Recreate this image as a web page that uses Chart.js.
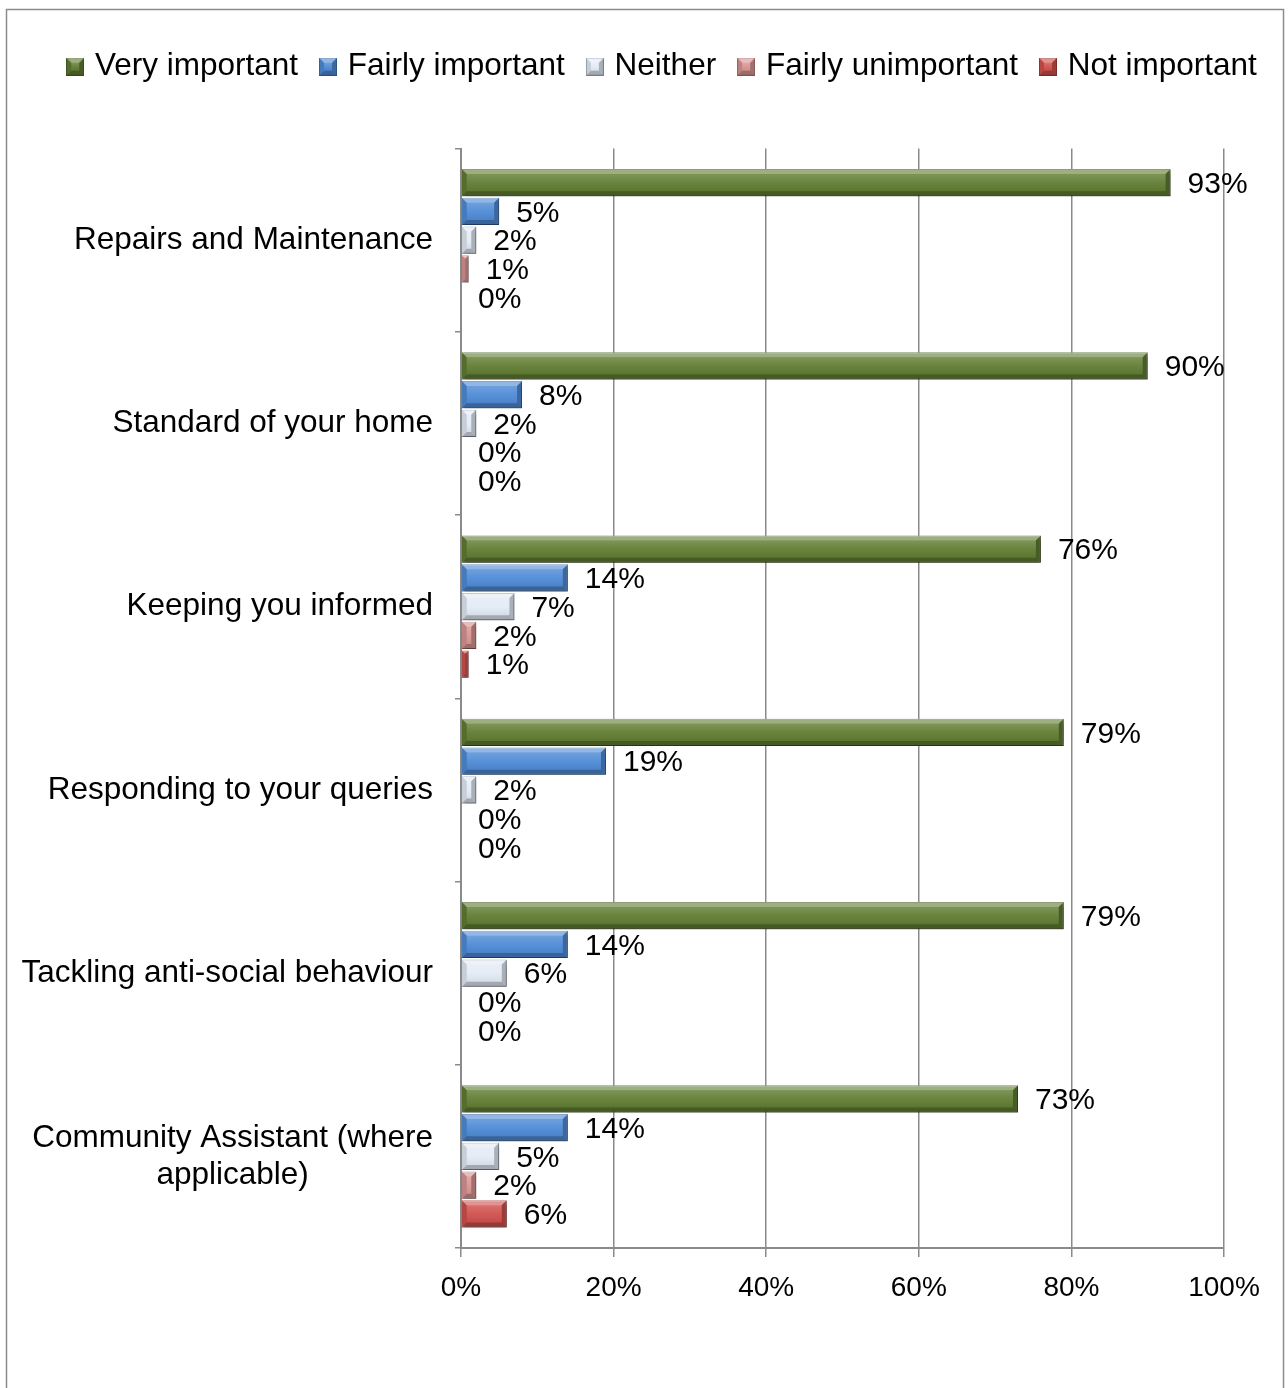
<!DOCTYPE html>
<html>
<head>
<meta charset="utf-8">
<title>Importance of services</title>
<script src="https://cdn.jsdelivr.net/npm/chart.js@4"></script>
<style>
  html, body { margin: 0; padding: 0; background: #fff; }
  canvas { display: block; }
</style>
</head>
<body>
<canvas id="servicesChart" width="1288" height="1388"></canvas>
<script>
const categories = [
  'Repairs and Maintenance',
  'Standard of your home',
  'Keeping you informed',
  'Responding to your queries',
  'Tackling anti-social behaviour',
  ['Community Assistant (where', 'applicable)']
];
const seriesNames = ['Very important', 'Fairly important', 'Neither', 'Fairly unimportant', 'Not important'];
const veryImportant = [93, 90, 76, 79, 79, 73];
const fairlyImportant = [5, 8, 14, 19, 14, 14];
const neither = [2, 2, 7, 2, 6, 5];
const fairlyUnimportant = [1, 0, 2, 0, 0, 2];
const notImportant = [0, 0, 1, 0, 0, 6];
const xTickValues = [0, 20, 40, 60, 80, 100];

const FONT = "'Liberation Sans', Arial, sans-serif";
const fills = ['#617d33', '#4f8bd6', '#e3ebf5', '#d99593', '#d0514d'];
const edges = ['#4d6327', '#3b6fae', '#9fadbd', '#b07371', '#a53c39'];

// bevelled facets like the office 3D bar style
function drawBevel(ctx, x0, y0, x1, y1) {
  const b = Math.min(5, (x1 - x0) / 2, (y1 - y0) / 2);
  if (b <= 0) return;
  const facet = (pts, col) => {
    ctx.beginPath();
    ctx.moveTo(pts[0], pts[1]);
    for (let i = 2; i < pts.length; i += 2) ctx.lineTo(pts[i], pts[i + 1]);
    ctx.closePath();
    ctx.fillStyle = col;
    ctx.fill();
  };
  facet([x0, y0, x1, y0, x1 - b, y0 + b, x0 + b, y0 + b], 'rgba(255,255,255,0.38)');
  facet([x0, y1, x1, y1, x1 - b, y1 - b, x0 + b, y1 - b], 'rgba(0,0,0,0.28)');
  facet([x0, y0, x0 + b, y0 + b, x0 + b, y1 - b, x0, y1], 'rgba(0,0,0,0.12)');
  facet([x1, y0, x1 - b, y0 + b, x1 - b, y1 - b, x1, y1], 'rgba(0,0,0,0.25)');
  if (x1 - x0 > 2 * b && y1 - y0 > 2 * b) {
    const g = ctx.createLinearGradient(0, y0 + b, 0, y1 - b);
    g.addColorStop(0, 'rgba(255,255,255,0.18)');
    g.addColorStop(0.5, 'rgba(255,255,255,0.05)');
    g.addColorStop(1, 'rgba(0,0,0,0.06)');
    ctx.fillStyle = g;
    ctx.fillRect(x0 + b, y0 + b, x1 - x0 - 2 * b, y1 - y0 - 2 * b);
  }
}

// little bevelled squares for the legend
const legendIcons = fills.map((c, i) => {
  const cv = document.createElement('canvas');
  cv.width = 18; cv.height = 18;
  const cx = cv.getContext('2d');
  cx.fillStyle = c;
  cx.fillRect(0, 0, 18, 18);
  cx.strokeStyle = edges[i];
  cx.strokeRect(0.5, 0.5, 17, 17);
  drawBevel(cx, 0, 0, 18, 18);
  return cv;
});

const frame = {
  id: 'frame',
  beforeDraw(chart) {
    const ctx = chart.ctx;
    ctx.save();
    ctx.strokeStyle = '#8c8c8c';
    ctx.lineWidth = 1.5;
    ctx.strokeRect(6.5, 9.5, 1277, 1420);
    ctx.restore();
  }
};

const bevel = {
  id: 'bevel',
  beforeDatasetsDraw(chart) {
    const ctx = chart.ctx;
    ctx.save();
    ctx.shadowColor = 'rgba(0,0,0,0.3)';
    ctx.shadowBlur = 4;
    ctx.shadowOffsetX = 2;
    ctx.shadowOffsetY = 3;
  },
  afterDatasetsDraw(chart) {
    const ctx = chart.ctx;
    ctx.restore();
    ctx.save();
    chart.data.datasets.forEach((ds, i) => {
      chart.getDatasetMeta(i).data.forEach((bar, j) => {
        const p = bar.getProps(['x', 'y', 'base', 'height'], true);
        const x0 = Math.min(p.base, p.x), x1 = Math.max(p.base, p.x);
        drawBevel(ctx, x0, p.y - p.height / 2, x1, p.y + p.height / 2);
        // value label
        ctx.fillStyle = '#000';
        ctx.font = '30px ' + FONT;
        ctx.textAlign = 'left';
        ctx.textBaseline = 'middle';
        ctx.fillText(ds.data[j] + '%', x1 + 17, p.y + 2);
      });
    });
    ctx.restore();
  }
};

// category labels: right-aligned block, lines centred inside it
const categoryLabels = {
  id: 'categoryLabels',
  afterDraw(chart) {
    const ctx = chart.ctx;
    const scale = chart.scales.y;
    ctx.save();
    ctx.font = '31.5px ' + FONT;
    ctx.fillStyle = '#000';
    ctx.textAlign = 'center';
    ctx.textBaseline = 'middle';
    const right = chart.chartArea.left - 28;
    chart.data.labels.forEach((lbl, i) => {
      const lines = Array.isArray(lbl) ? lbl : [lbl];
      const w = Math.max(...lines.map(l => ctx.measureText(l).width));
      const yc = scale.getPixelForValue(i);
      const lh = 37;
      lines.forEach((l, k) => {
        ctx.fillText(l, right - w / 2, yc - (lines.length - 1) * lh / 2 + k * lh);
      });
    });
    ctx.restore();
  }
};

const seriesData = [veryImportant, fairlyImportant, neither, fairlyUnimportant, notImportant];

// empty spacer axes keep the plot clear of the legend and the right edge
const spacer = size => ({
  type: 'linear',
  ticks: { display: false },
  grid: { display: false },
  border: { display: false },
  afterFit: s => { if (s.isHorizontal()) s.height = size; else s.width = size; }
});

new Chart(document.getElementById('servicesChart'), {
  type: 'bar',
  data: {
    labels: categories,
    datasets: seriesNames.map((name, i) => ({
      label: name,
      data: seriesData[i],
      backgroundColor: fills[i],
      borderColor: edges[i],
      borderWidth: 1,
      categoryPercentage: 0.783,
      barPercentage: 0.95
    }))
  },
  options: {
    indexAxis: 'y',
    responsive: false,
    animation: false,
    devicePixelRatio: 1,
    layout: { padding: { top: 25, left: 40, right: 0, bottom: 0 } },
    plugins: {
      tooltip: { enabled: false },
      legend: {
        position: 'top',
        labels: {
          font: { size: 31.5, family: FONT },
          color: '#000',
          usePointStyle: true,
          boxWidth: 8,
          boxHeight: 17,
          padding: 26,
          generateLabels: chart => Chart.defaults.plugins.legend.labels.generateLabels(chart)
            .map((item, i) => Object.assign(item, { pointStyle: legendIcons[i] }))
        }
      }
    },
    scales: {
      x: {
        min: 0,
        max: 100,
        afterBuildTicks: s => { s.ticks = xTickValues.map(v => ({ value: v })); },
        ticks: {
          callback: v => v + '%',
          font: { size: 28, family: FONT },
          color: '#000',
          padding: 14,
          maxRotation: 0
        },
        grid: { color: '#8a8a8a', lineWidth: 1.5, tickLength: 9 },
        border: { color: '#8a8a8a', width: 2 },
        afterFit: s => { s.height = 140; }
      },
      y: {
        offset: true,
        ticks: { display: false },
        grid: { drawOnChartArea: false, offset: true, tickLength: 6, color: '#8a8a8a', lineWidth: 1.5 },
        border: { color: '#8a8a8a', width: 2 },
        afterFit: s => { s.width = 421; }
      },
      xTop: Object.assign(spacer(56), { position: 'top', axis: 'x' }),
      yRight: Object.assign(spacer(64), { position: 'right', axis: 'y' })
    }
  },
  plugins: [frame, bevel, categoryLabels]
});
</script>
</body>
</html>
